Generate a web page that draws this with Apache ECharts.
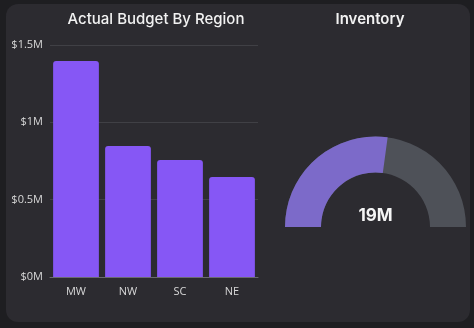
<!DOCTYPE html>
<html><head><meta charset="utf-8">
<script src="https://cdn.jsdelivr.net/npm/echarts@6/dist/echarts.min.js"></script>
<style>html,body{margin:0;padding:0;background:#1e1e21;}#c{width:474px;height:328px;}</style>
</head><body><div id="c"></div>
<script>
const regions = ['MW', 'NW', 'SC', 'NE'];
const budget = [1.396, 0.847, 0.756, 0.646]; // $M
const yTicks = [0, 0.5, 1, 1.5];
const inventoryValue = 19; // M
const inventoryMax = 35;   // M

const chart = echarts.init(document.getElementById('c'));
const font = '"Open Sans", sans-serif';
const tfont = 'Inter, sans-serif';
chart.setOption({
  backgroundColor: '#1e1e21',
  animation: false,
  graphic: [{
    type: 'rect', z: -10, silent: true,
    shape: { x: 6, y: 4, width: 464, height: 318, r: 12 },
    style: { fill: '#2c2b30' }
  }],
  title: [
    { text: 'Actual Budget By Region', left: 151, top: 7, textAlign: 'center',
      textStyle: { color: '#f2f2f2', fontSize: 15, fontWeight: 500, fontFamily: tfont } },
    { text: 'Inventory', left: 365, top: 7, textAlign: 'center',
      textStyle: { color: '#f2f2f2', fontSize: 15, fontWeight: 600, fontFamily: tfont } }
  ],
  grid: { left: 50, right: 216, top: 45, bottom: 51 },
  xAxis: {
    type: 'category', data: regions,
    axisLine: { lineStyle: { color: '#6a6a70' } },
    axisTick: { show: false },
    axisLabel: { color: '#d8d8d8', fontSize: 11, margin: 9, fontFamily: font }
  },
  yAxis: {
    type: 'value', min: yTicks[0], max: yTicks[yTicks.length - 1], interval: 0.5,
    axisLabel: { color: '#d8d8d8', fontSize: 11, margin: 7, fontFamily: font,
      formatter: v => '$' + v + 'M' },
    splitLine: { lineStyle: { color: '#404045' } },
    axisLine: { show: false }, axisTick: { show: false }
  },
  series: [
    { type: 'bar', data: budget, barCategoryGap: '12%',
      itemStyle: { color: '#8657f5', borderRadius: [3, 3, 0, 0] } },
    { type: 'gauge', center: [375.5, 227], radius: 90.5,
      startAngle: 180, endAngle: 0, min: 0, max: inventoryMax,
      progress: { show: true, width: 36, itemStyle: { color: '#7c6ac9' } },
      axisLine: { lineStyle: { width: 36, color: [[1, '#4e5158']] } },
      pointer: { show: false }, axisTick: { show: false }, splitLine: { show: false },
      axisLabel: { show: false }, anchor: { show: false }, title: { show: false },
      detail: { offsetCenter: [0, -11], color: '#f5f5f5', fontSize: 17, fontWeight: 700,
        fontFamily: tfont, formatter: v => v + 'M' },
      data: [{ value: inventoryValue }] }
  ]
});
</script></body></html>
